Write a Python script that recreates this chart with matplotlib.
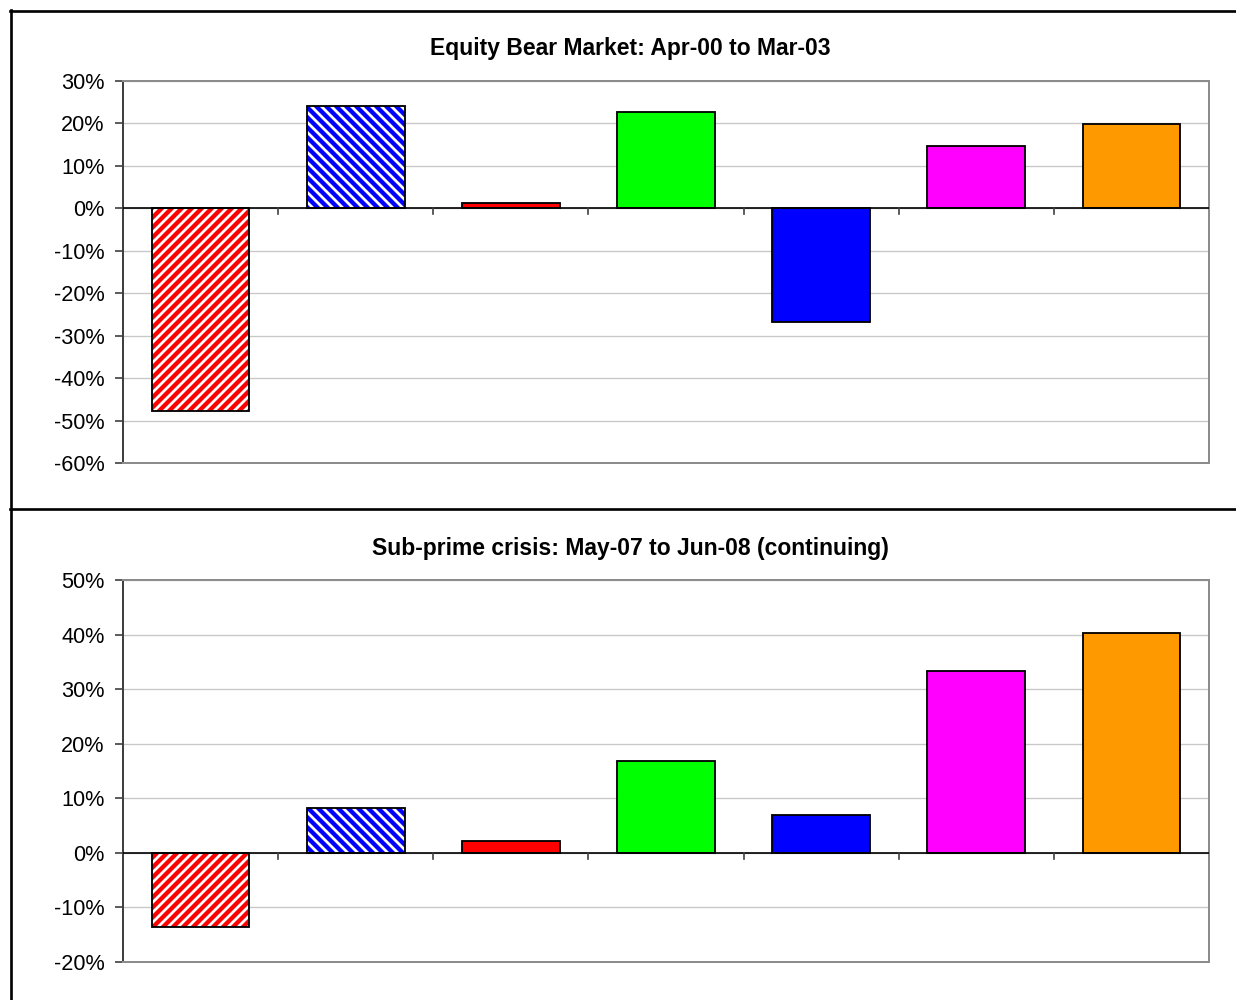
import matplotlib.pyplot as plt
import matplotlib.lines as mlines
from matplotlib.ticker import FuncFormatter
import numpy as np

plt.rcParams["font.family"] = ["Liberation Sans", "DejaVu Sans"]
plt.rcParams["hatch.linewidth"] = 2.6

# ---------------------------------------------------------------------------
# DATA
# ---------------------------------------------------------------------------
bear_title = "Equity Bear Market: Apr-00 to Mar-03"
bear_returns = [-47.7, 24.0, 1.2, 22.8, -26.8, 14.6, 19.8]

subprime_title = "Sub-prime crisis: May-07 to Jun-08 (continuing)"
subprime_returns = [-13.6, 8.2, 2.2, 16.8, 7.0, 33.3, 40.3]

bar_colors = ["#FF0000", "#0000FF", "#FF0000", "#00FF00", "#0000FF", "#FF00FF", "#FF9900"]
bar_hatches = ["////", "\\\\\\\\", None, None, None, None, None]

W, H, DPI = 1236, 1000, 120


def draw_panel(ax, values, ylim, step):
    x = np.arange(len(values))
    width = 0.63
    for xi, v, c, h in zip(x, values, bar_colors, bar_hatches):
        if h:
            ax.bar(xi, v, width, color="white", edgecolor=c, hatch=h,
                   linewidth=0, zorder=3)
            ax.bar(xi, v, width, fill=False, edgecolor="black",
                   linewidth=1.1, zorder=4)
        else:
            ax.bar(xi, v, width, color=c, edgecolor="black",
                   linewidth=1.1, zorder=3)

    ax.set_xlim(-0.5, len(values) - 0.5)
    ax.set_ylim(*ylim)
    ax.set_yticks(np.arange(ylim[0], ylim[1] + 1, step))
    ax.yaxis.set_major_formatter(FuncFormatter(lambda v, _: f"{v:.0f}%"))
    ax.tick_params(axis="y", direction="out", length=5, width=1,
                   color="#404040", labelsize=13, pad=6)
    ax.set_xticks([])
    ax.grid(axis="y", color="#c8c8c8", linewidth=0.8, zorder=0)

    # zero line with category separators ticking downward
    ax.axhline(0, color="black", linewidth=1.0, zorder=5)
    tick_len = (ylim[1] - ylim[0]) * 0.016
    for b in np.arange(0.5, len(values) - 0.5, 1.0):
        ax.plot([b, b], [0, -tick_len], color="#404040", linewidth=1.0, zorder=5)

    for side in ("top", "right", "bottom"):
        ax.spines[side].set_color("#8c8c8c")
        ax.spines[side].set_linewidth(1.2)
    ax.spines["left"].set_color("#404040")
    ax.spines["left"].set_linewidth(1.2)


fig = plt.figure(figsize=(W / DPI, H / DPI), dpi=DPI)

ax_top = fig.add_axes([123 / W, 1 - 463 / H, (1209 - 123) / W, (463 - 81) / H])
draw_panel(ax_top, bear_returns, (-60, 30), 10)

ax_bot = fig.add_axes([123 / W, 1 - 962 / H, (1209 - 123) / W, (962 - 580) / H])
draw_panel(ax_bot, subprime_returns, (-20, 50), 10)

fig.text(630 / W, 1 - 48 / H, bear_title, ha="center", va="center",
         fontsize=13.7, fontweight="bold")
fig.text(630 / W, 1 - 548 / H, subprime_title, ha="center", va="center",
         fontsize=13.7, fontweight="bold")

# outer frame around the two panels
for xs, ys in [([10 / W, 1.0], [1 - 11 / H] * 2),
               ([11 / W] * 2, [1 - 10 / H, 0.0]),
               ([10 / W, 1.0], [1 - 509 / H] * 2)]:
    fig.add_artist(mlines.Line2D(xs, ys, color="black", linewidth=1.6,
                                 transform=fig.transFigure))

fig.savefig("out.png", dpi=DPI)
